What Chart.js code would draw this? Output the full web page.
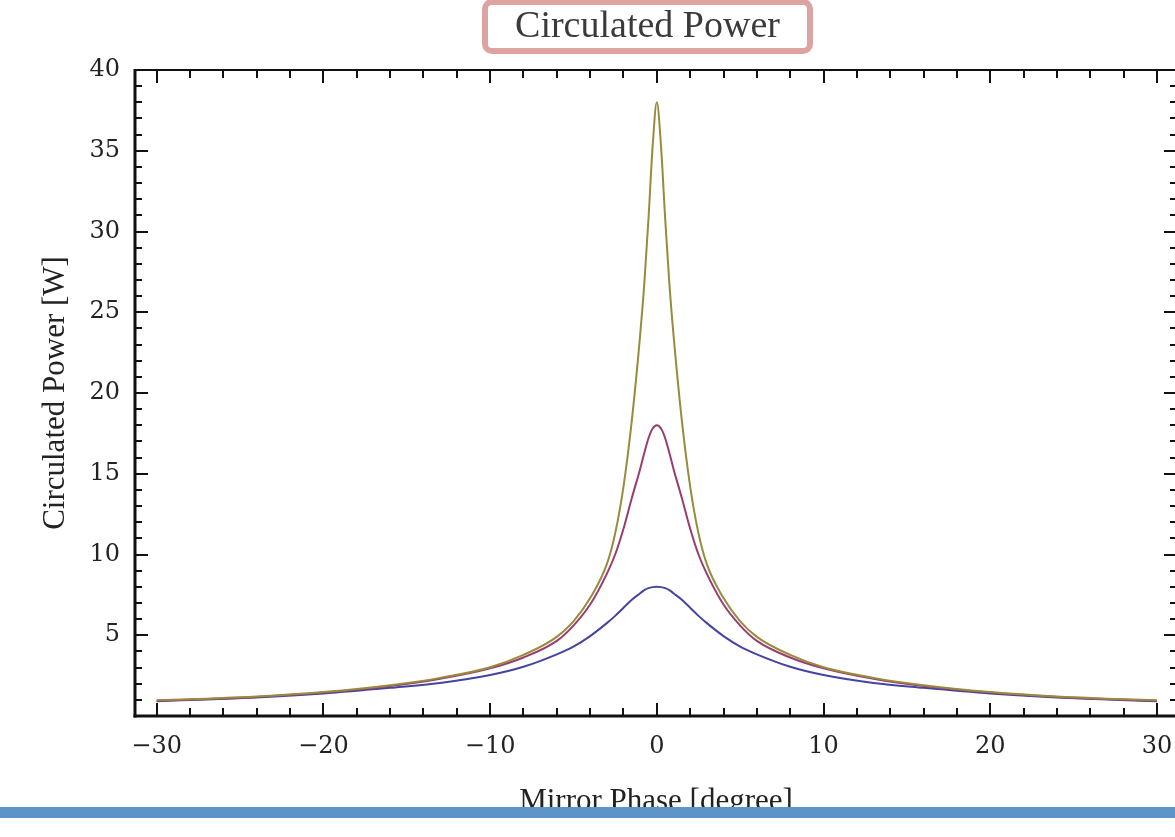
<!DOCTYPE html>
<html lang="en">
  <head>
    <meta charset="UTF-8" />
    <meta name="viewport" content="width=device-width, initial-scale=1.0" />
    <title>Circulated Power</title>
    <script src="https://cdn.jsdelivr.net/npm/chart.js@4/dist/chart.umd.min.js"></script>
    <style>
      html,
      body {
        margin: 0;
        padding: 0;
        background: #fff;
        overflow: hidden;
      }
      #wrap {
        position: relative;
        width: 1175px;
        height: 837px;
        overflow: hidden;
      }
      #powerChart {
        position: absolute;
        left: 0;
        top: 0;
      }
      .title-box {
        position: absolute;
        left: 482px;
        top: -1px;
        width: 319px;
        height: 43px;
        border: 6px solid #dca3a1;
        border-radius: 10px;
        background: #fff;
        font-family: "Liberation Serif", serif;
        font-size: 38px;
        line-height: 38px;
        color: #3a3a3a;
        text-align: center;
      }
      .bar {
        position: absolute;
        left: 0;
        top: 807px;
        width: 1175px;
        height: 11px;
        background: #5e94c8;
      }
      .below {
        position: absolute;
        left: 0;
        top: 818px;
        width: 1175px;
        height: 19px;
        background: #fff;
      }
    </style>
  </head>
  <body>
    <div id="wrap">
      <canvas id="powerChart" width="1180" height="837"></canvas>
      <div class="title-box">Circulated Power</div>
      <div class="bar"></div>
      <div class="below"></div>
    </div>
    <script>
      // mirror phase [degree]
      const phase = [
        -30, -27, -24, -20, -16, -13, -10, -8, -6, -5, -4, -3, -2.5, -2, -1.5,
        -1, -0.75, -0.5, -0.25, 0, 0.25, 0.5, 0.75, 1, 1.5, 2, 2.5, 3, 4, 5, 6,
        8, 10, 13, 16, 20, 24, 27, 30,
      ];

      // circulated power [W]
      const powerHigh = [
        0.97, 1.07, 1.2, 1.48, 1.9, 2.36, 3.02, 3.78, 4.9, 5.86, 7.3, 9.4,
        11.3, 14.2, 18.3, 23.6, 26.8, 30.8, 35.3, 38.0, 35.3, 30.8, 26.8, 23.6,
        18.3, 14.2, 11.3, 9.4, 7.3, 5.86, 4.9, 3.78, 3.02, 2.36, 1.9, 1.48,
        1.2, 1.07, 0.97,
      ];
      const powerMid = [
        0.95, 1.05, 1.18, 1.45, 1.85, 2.3, 2.95, 3.62, 4.65, 5.6, 6.9, 8.8,
        10.0, 11.6, 13.5, 15.3, 16.3, 17.2, 17.8, 18.0, 17.8, 17.2, 16.3, 15.3,
        13.5, 11.6, 10.0, 8.8, 6.9, 5.6, 4.65, 3.62, 2.95, 2.3, 1.85, 1.45,
        1.18, 1.05, 0.95,
      ];
      const powerLow = [
        0.92, 1.02, 1.15, 1.4, 1.75, 2.05, 2.54, 3.05, 3.82, 4.3, 4.95, 5.75,
        6.2, 6.7, 7.2, 7.6, 7.8, 7.92, 7.98, 8.0, 7.98, 7.92, 7.8, 7.6, 7.2,
        6.7, 6.2, 5.75, 4.95, 4.3, 3.82, 3.05, 2.54, 2.05, 1.75, 1.4, 1.15,
        1.02, 0.92,
      ];

      const xTicks = [-30, -20, -10, 0, 10, 20, 30];
      const xTickLabels = ["−30", "−20", "−10", "0", "10", "20", "30"];
      const yTicks = [5, 10, 15, 20, 25, 30, 35, 40];
      const yTickLabels = ["5", "10", "15", "20", "25", "30", "35", "40"];

      function toPoints(values) {
        return phase.map((x, i) => ({ x: x, y: values[i] }));
      }

      // Mathematica style frame, ticks pointing inward on all four sides
      const framePlugin = {
        id: "frame",
        afterDraw(chart) {
          const { ctx, chartArea: a } = chart;
          const x = chart.scales.x;
          const y = chart.scales.y;
          const seg = (x1, y1, x2, y2) => {
            ctx.beginPath();
            ctx.moveTo(x1, y1);
            ctx.lineTo(x2, y2);
            ctx.stroke();
          };
          ctx.save();
          ctx.strokeStyle = "#111";
          ctx.lineWidth = 2;
          for (let v = -30; v <= 30; v += 2) {
            const px = Math.round(x.getPixelForValue(v));
            const len = v % 10 === 0 ? 13 : 8;
            seg(px, a.bottom, px, a.bottom - len);
            seg(px, a.top, px, a.top + len);
          }
          for (let v = 1; v <= 40; v++) {
            const py = Math.round(y.getPixelForValue(v));
            const len = v % 5 === 0 ? 13 : 7;
            seg(a.left, py, a.left + len, py);
            seg(a.right, py, a.right - len, py);
          }
          ctx.lineWidth = 2;
          seg(a.left, a.top, a.right, a.top);
          ctx.lineWidth = 3;
          seg(a.left, a.top - 1, a.left, a.bottom + 1.5);
          seg(a.left - 1.5, a.bottom, a.right, a.bottom);
          seg(a.right, a.top, a.right, a.bottom);
          ctx.restore();
        },
      };

      const ctx = document.getElementById("powerChart").getContext("2d");

      new Chart(ctx, {
        type: "line",
        data: {
          datasets: [
            {
              label: "high",
              data: toPoints(powerHigh),
              borderColor: "#998b3d",
            },
            {
              label: "mid",
              data: toPoints(powerMid),
              borderColor: "#993d71",
            },
            {
              label: "low",
              data: toPoints(powerLow),
              borderColor: "#4545a0",
            },
          ],
        },
        options: {
          responsive: false,
          animation: false,
          datasets: {
            line: {
              borderWidth: 2,
              pointRadius: 0,
              fill: false,
              cubicInterpolationMode: "monotone",
            },
          },
          layout: {
            padding: { top: 70, right: 3, left: 0, bottom: 0 },
          },
          plugins: {
            legend: { display: false },
            tooltip: { enabled: false },
          },
          scales: {
            x: {
              type: "linear",
              min: -31.3,
              max: 31.2,
              grid: { display: false, drawTicks: false },
              border: { display: false },
              afterBuildTicks: (scale) => {
                scale.ticks = xTicks.map((v) => ({ value: v }));
              },
              afterFit: (scale) => {
                scale.height = 121;
                scale.paddingLeft = 0;
                scale.paddingRight = 0;
              },
              ticks: {
                padding: 16,
                autoSkip: false,
                maxRotation: 0,
                color: "#222",
                font: { family: "DejaVu Serif", size: 24 },
                callback: (v) => xTickLabels[xTicks.indexOf(v)],
              },
              title: {
                display: true,
                text: "Mirror Phase [degree]",
                color: "#222",
                font: { family: "Liberation Serif", size: 31 },
                padding: { top: 0, bottom: 17 },
              },
            },
            y: {
              type: "linear",
              min: 0,
              max: 40,
              grid: { display: false, drawTicks: false },
              border: { display: false },
              afterBuildTicks: (scale) => {
                scale.ticks = yTicks.map((v) => ({ value: v }));
              },
              afterFit: (scale) => {
                scale.width = 135;
                scale.paddingTop = 0;
                scale.paddingBottom = 0;
              },
              ticks: {
                padding: 15,
                color: "#222",
                font: { family: "DejaVu Serif", size: 24 },
                callback: (v) => yTickLabels[yTicks.indexOf(v)],
              },
              title: {
                display: true,
                text: "Circulated Power [W]",
                color: "#222",
                font: { family: "Liberation Serif", size: 31 },
                padding: { top: 37, bottom: 0 },
              },
            },
          },
        },
        plugins: [framePlugin],
      });
    </script>
  </body>
</html>
